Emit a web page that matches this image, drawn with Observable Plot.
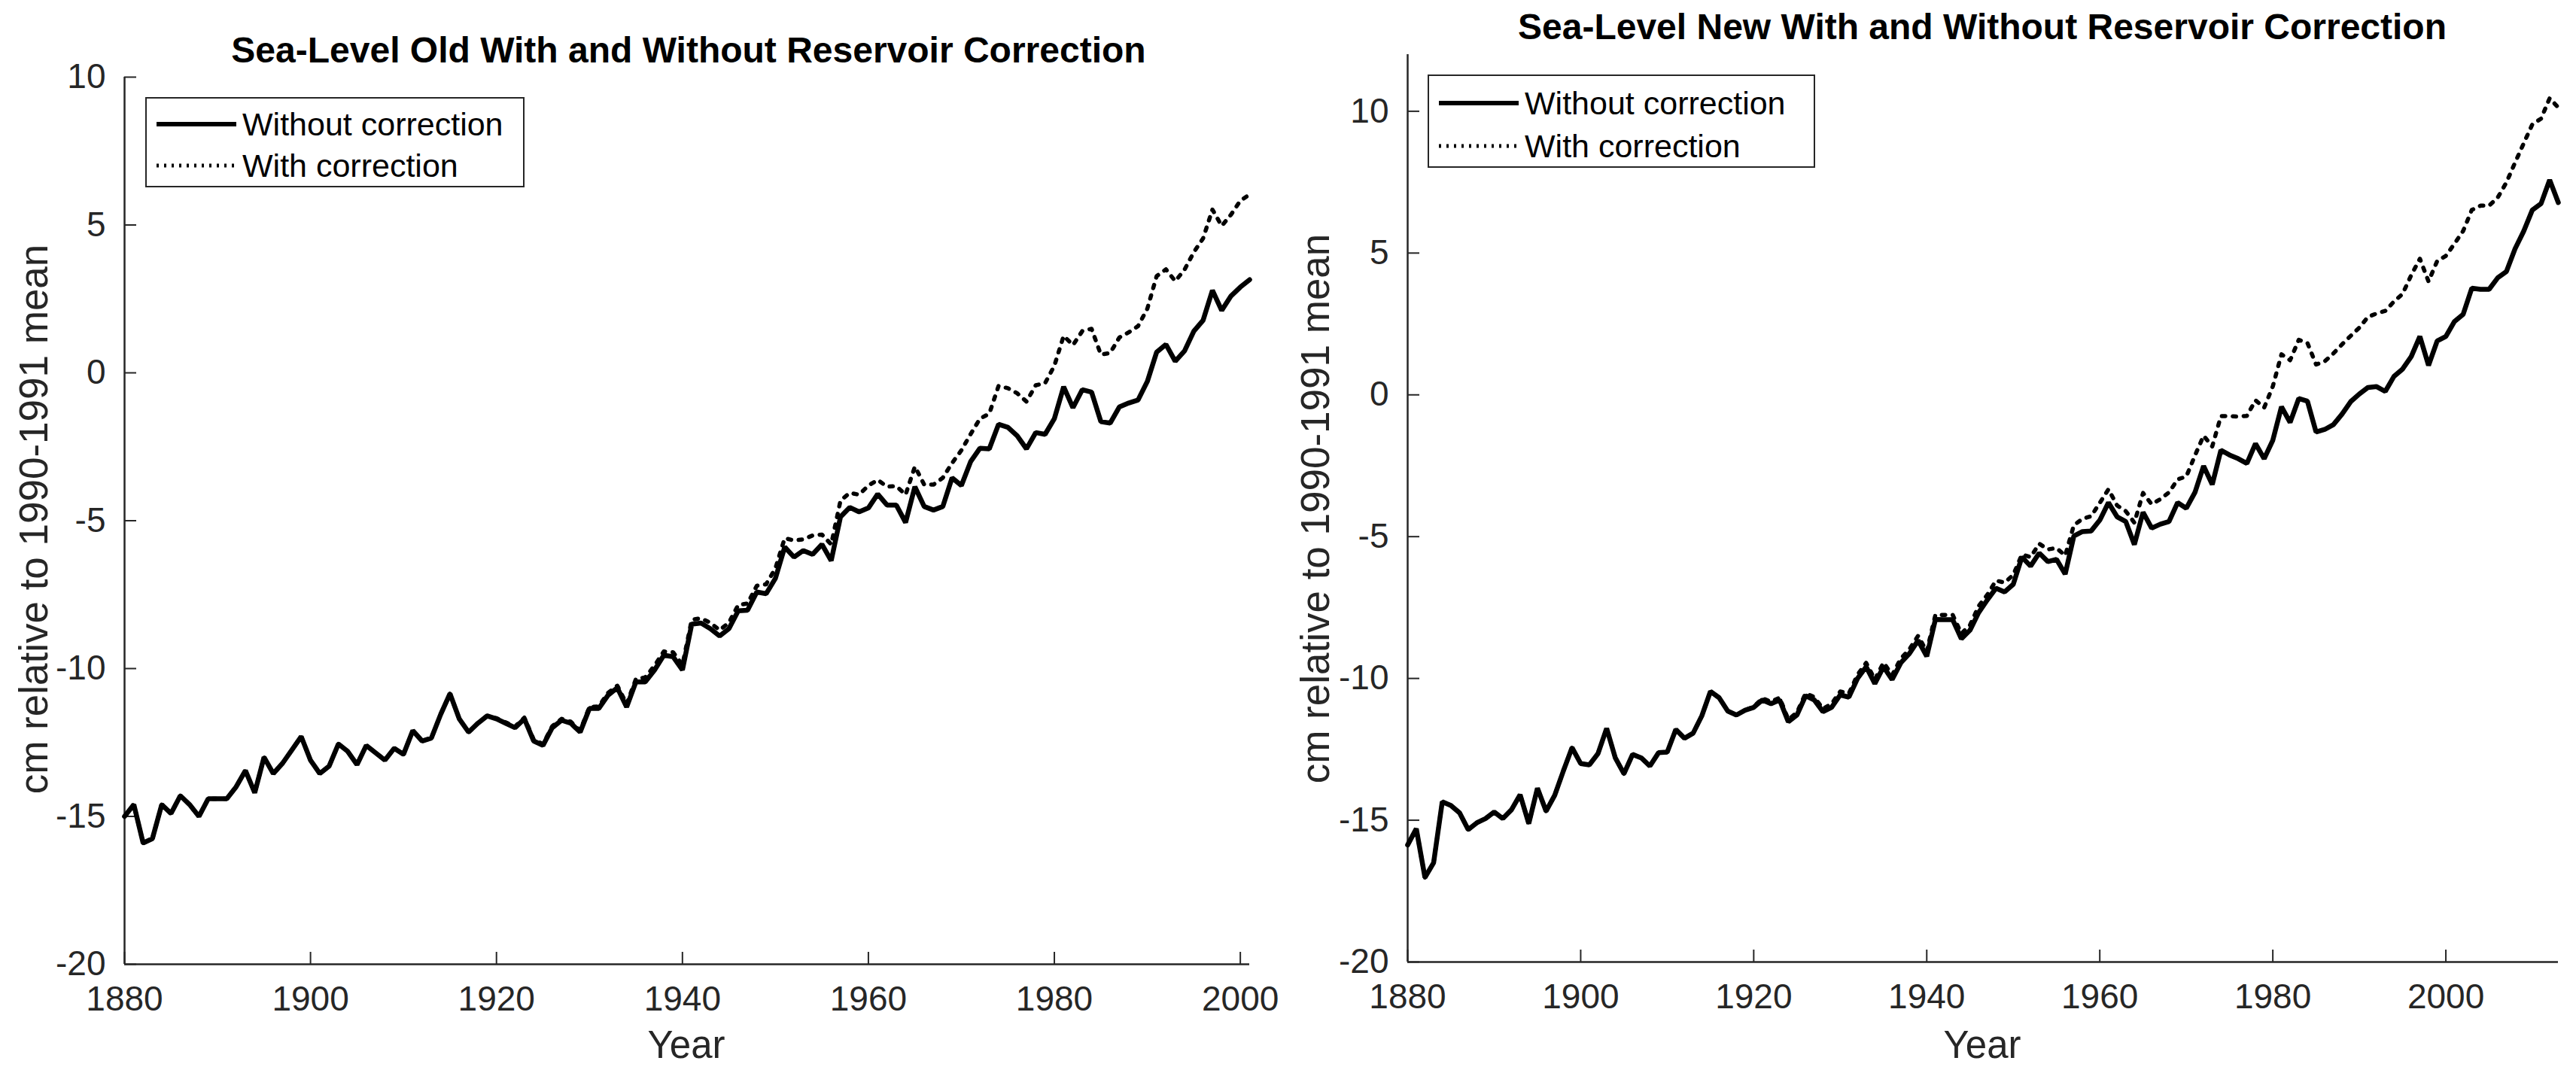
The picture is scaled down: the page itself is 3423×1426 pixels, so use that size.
<!DOCTYPE html>
<html>
<head>
<meta charset="utf-8">
<script src="https://cdn.jsdelivr.net/npm/d3@7"></script>
<script src="https://cdn.jsdelivr.net/npm/@observablehq/plot@0.6"></script>
<style>
  html, body { margin: 0; padding: 0; background: #fff; }
  #page { position: relative; width: 3423px; height: 1426px; background: #fff; overflow: hidden;
          font-family: "Liberation Sans", Arial, Helvetica, sans-serif; color: #262626; }
  .title { position: absolute; font-weight: bold; font-size: 48px; line-height: 1; white-space: nowrap;
           transform: translateX(-50%); color: #000; }
  .xlabel { position: absolute; font-size: 51px; line-height: 1; white-space: nowrap; transform: translate(-50%, -50%); }
  .ylabel { position: absolute; font-size: 53px; line-height: 1; white-space: nowrap;
            transform: translate(-50%, -50%) rotate(-90deg); }
  .legend { position: absolute; border: 2.5px solid #262626; background: #fff; box-sizing: border-box; }
  .legend .row { position: absolute; left: 0; height: 50px; display: flex; align-items: center; }
  .legend .row span { font-size: 43px; line-height: 1; white-space: nowrap; color: #000; }
  .legend svg { display: block; margin-left: 13px; margin-right: 8px; }
</style>
</head>
<body>
<div id="page"></div>
<script>
// ---------------- data ----------------
const leftStartYear = 1880;   // Sea-Level Old: 1880-2001
const rightStartYear = 1880;  // Sea-Level New: 1880-2013

const oldWithout = [
  -15.0,-14.6,-15.9,-15.75,-14.6,-14.9,-14.3,-14.6,-15.0,-14.4,
  -14.4,-14.4,-14.0,-13.45,-14.2,-13.0,-13.55,-13.2,-12.75,-12.3,
  -13.1,-13.55,-13.3,-12.55,-12.8,-13.25,-12.6,-12.85,-13.1,-12.7,
  -12.9,-12.1,-12.45,-12.35,-11.55,-10.85,-11.7,-12.15,-11.85,-11.6,
  -11.7,-11.85,-12.0,-11.7,-12.45,-12.6,-12.0,-11.75,-11.85,-12.15,
  -11.35,-11.35,-10.9,-10.65,-11.3,-10.45,-10.45,-10.05,-9.55,-9.6,
  -10.05,-8.5,-8.46,-8.65,-8.9,-8.65,-8.05,-8.03,-7.41,-7.47,
  -6.95,-5.89,-6.23,-6.01,-6.14,-5.8,-6.35,-4.87,-4.55,-4.7,
  -4.57,-4.1,-4.47,-4.47,-5.06,-3.85,-4.52,-4.64,-4.52,-3.55,
  -3.81,-3.0,-2.55,-2.57,-1.74,-1.84,-2.13,-2.57,-2.02,-2.08,
  -1.55,-0.47,-1.18,-0.57,-0.65,-1.65,-1.7,-1.15,-1.02,-0.92,
  -0.29,0.7,0.96,0.39,0.74,1.41,1.78,2.79,2.11,2.6,
  2.9,3.15
];
const oldWith = [
  -15.0,-14.6,-15.9,-15.75,-14.6,-14.9,-14.3,-14.6,-15.0,-14.4,
  -14.4,-14.4,-14.0,-13.45,-14.2,-13.0,-13.55,-13.2,-12.75,-12.3,
  -13.1,-13.55,-13.3,-12.55,-12.8,-13.25,-12.6,-12.85,-13.1,-12.7,
  -12.9,-12.1,-12.45,-12.35,-11.55,-10.85,-11.7,-12.15,-11.85,-11.6,
  -11.68,-11.82,-11.96,-11.66,-12.4,-12.55,-11.95,-11.7,-11.8,-12.1,
  -11.3,-11.28,-10.82,-10.58,-11.2,-10.35,-10.3,-9.9,-9.42,-9.45,
  -9.88,-8.35,-8.3,-8.45,-8.7,-8.45,-7.85,-7.8,-7.2,-7.15,
  -6.61,-5.59,-5.67,-5.63,-5.5,-5.47,-5.8,-4.32,-4.06,-4.12,
  -3.81,-3.62,-3.85,-3.83,-4.12,-3.17,-3.78,-3.78,-3.55,-3.05,
  -2.62,-2.07,-1.55,-1.38,-0.44,-0.52,-0.69,-0.97,-0.42,-0.35,
  0.24,1.25,0.94,1.41,1.49,0.62,0.67,1.2,1.37,1.58,
  2.17,3.27,3.5,3.1,3.49,4.08,4.55,5.52,4.97,5.35,
  5.82,6.03
];
const newWithout = [
  -15.87,-15.3,-17.02,-16.5,-14.35,-14.48,-14.74,-15.33,-15.09,-14.94,
  -14.71,-14.94,-14.63,-14.1,-15.12,-13.87,-14.68,-14.12,-13.26,-12.44,
  -13.0,-13.05,-12.65,-11.76,-12.8,-13.36,-12.68,-12.8,-13.09,-12.62,
  -12.6,-11.8,-12.11,-11.93,-11.32,-10.46,-10.68,-11.15,-11.29,-11.12,
  -11.02,-10.76,-10.89,-10.76,-11.53,-11.29,-10.61,-10.76,-11.17,-11.02,
  -10.58,-10.66,-10.0,-9.59,-10.18,-9.59,-10.04,-9.45,-9.12,-8.66,
  -9.22,-7.92,-7.93,-7.93,-8.6,-8.3,-7.68,-7.23,-6.82,-6.95,
  -6.68,-5.72,-6.04,-5.58,-5.88,-5.8,-6.32,-4.98,-4.82,-4.8,
  -4.42,-3.8,-4.3,-4.47,-5.28,-4.14,-4.7,-4.56,-4.47,-3.8,
  -4.0,-3.44,-2.51,-3.16,-1.95,-2.12,-2.25,-2.42,-1.72,-2.25,
  -1.6,-0.42,-0.97,-0.13,-0.22,-1.31,-1.22,-1.05,-0.68,-0.24,
  0.03,0.26,0.29,0.12,0.65,0.91,1.35,2.06,1.04,1.9,
  2.06,2.59,2.84,3.76,3.72,3.72,4.13,4.35,5.15,5.77,
  6.52,6.74,7.58,6.78
];
const newWith = [
  -15.87,-15.3,-17.02,-16.5,-14.35,-14.48,-14.74,-15.33,-15.09,-14.94,
  -14.71,-14.94,-14.63,-14.1,-15.12,-13.87,-14.68,-14.12,-13.26,-12.44,
  -13.0,-13.05,-12.65,-11.76,-12.8,-13.36,-12.68,-12.8,-13.09,-12.62,
  -12.6,-11.8,-12.11,-11.93,-11.32,-10.46,-10.68,-11.15,-11.29,-11.12,
  -11.0,-10.7,-10.82,-10.68,-11.45,-11.2,-10.52,-10.66,-11.07,-10.9,
  -10.46,-10.53,-9.87,-9.45,-10.04,-9.44,-9.88,-9.3,-8.97,-8.5,
  -9.05,-7.76,-7.76,-7.76,-8.42,-8.12,-7.45,-7.05,-6.55,-6.62,
  -6.35,-5.63,-5.72,-5.25,-5.45,-5.4,-5.67,-4.6,-4.37,-4.28,
  -3.81,-3.33,-3.9,-4.1,-4.51,-3.46,-3.86,-3.68,-3.44,-2.98,
  -2.88,-2.14,-1.44,-1.82,-0.75,-0.75,-0.77,-0.74,-0.19,-0.45,
  0.3,1.43,1.22,1.94,1.83,1.07,1.18,1.46,1.78,2.08,
  2.37,2.75,2.87,2.96,3.29,3.56,4.22,4.8,4.0,4.72,
  4.9,5.33,5.78,6.52,6.67,6.67,6.96,7.49,8.19,8.87,
  9.54,9.74,10.46,10.13
];

const xTicks = [1880, 1900, 1920, 1940, 1960, 1980, 2000];
const yTicksOld = [-20, -15, -10, -5, 0, 5, 10];
const yTicksNew = [-20, -15, -10, -5, 0, 5, 10];
const seriesNames = ["Without correction", "With correction"];
const titles = ["Sea-Level Old With and Without Reservoir Correction",
                "Sea-Level New With and Without Reservoir Correction"];
const xLabel = "Year";
const yLabel = "cm relative to 1990-1991 mean";

// ---------------- build ----------------
const AX = "#262626";
const page = document.getElementById("page");

function rows(start, without, withC) {
  return without.map((v, i) => ({year: start + i, without: v, with: withC[i]}));
}

function panel(cfg) {
  const data = rows(cfg.start, cfg.without, cfg.with);
  const svg = Plot.plot({
    width: cfg.width, height: cfg.height,
    marginLeft: cfg.ml, marginRight: cfg.mr, marginTop: cfg.mt, marginBottom: cfg.mb,
    style: {fontFamily: '"Liberation Sans", Arial, Helvetica, sans-serif', fontSize: "46px", color: AX, background: "white", overflow: "visible"},
    x: {domain: cfg.xDomain},
    y: {domain: cfg.yDomain},
    marks: [
      Plot.axisX(xTicks, {anchor: "bottom", tickSize: -16, tickPadding: 45, tickFormat: d => String(d), label: null, strokeWidth: 2, color: AX}),
      Plot.axisY(cfg.yTicks, {anchor: "left", tickSize: -16, tickPadding: 41, tickFormat: d => String(d), label: null, strokeWidth: 2, color: AX}),
      Plot.ruleX([cfg.xDomain[0]], {stroke: AX, strokeWidth: 2.5}),
      Plot.ruleY([cfg.yDomain[0]], {stroke: AX, strokeWidth: 2.5}),
      Plot.lineY(data, {x: "year", y: "with", stroke: "black", strokeWidth: 5.5, strokeDasharray: "4.5,10"}),
      Plot.lineY(data, {x: "year", y: "without", stroke: "black", strokeWidth: 6.5, strokeLinejoin: "miter"})
    ]
  });
  svg.style.position = "absolute";
  svg.style.left = cfg.left + "px";
  svg.style.top = "0px";
  page.appendChild(svg);

  const t = document.createElement("div");
  t.className = "title"; t.textContent = cfg.title;
  t.style.left = cfg.titleX + "px"; t.style.top = cfg.titleTop + "px";
  page.appendChild(t);

  const xl = document.createElement("div");
  xl.className = "xlabel"; xl.textContent = xLabel;
  xl.style.left = cfg.xLabelX + "px"; xl.style.top = cfg.xLabelY + "px";
  page.appendChild(xl);

  const yl = document.createElement("div");
  yl.className = "ylabel"; yl.textContent = yLabel;
  yl.style.left = cfg.yLabelX + "px"; yl.style.top = cfg.yLabelY + "px";
  page.appendChild(yl);

  const lg = document.createElement("div");
  lg.className = "legend";
  lg.style.left = cfg.legend.x + "px"; lg.style.top = cfg.legend.y + "px";
  lg.style.width = cfg.legend.w + "px"; lg.style.height = cfg.legend.h + "px";
  seriesNames.forEach((name, i) => {
    const r = document.createElement("div");
    r.className = "row";
    r.style.top = (cfg.legend.rows[i] - 25) + "px";
    const dash = i === 0 ? "" : 'stroke-dasharray="3,7"';
    const sw = i === 0 ? 6 : 5;
    r.innerHTML = `<svg width="106" height="20"><line x1="0" y1="10" x2="106" y2="10" stroke="black" stroke-width="${sw}" ${dash}/></svg><span>${name}</span>`;
    lg.appendChild(r);
  });
  page.appendChild(lg);
}

panel({
  start: leftStartYear, without: oldWithout, with: oldWith, yTicks: yTicksOld,
  left: 0, width: 1711, height: 1426, ml: 165, mr: 51, mt: 102, mb: 145,
  xDomain: [1880, 2001], yDomain: [-20, 10],
  title: titles[0], titleX: 915, titleTop: 43,
  xLabelX: 912, xLabelY: 1388, yLabelX: 44, yLabelY: 690,
  legend: {x: 193, y: 129, w: 504, h: 120, rows: [34, 89]}
});
panel({
  start: rightStartYear, without: newWithout, with: newWith, yTicks: yTicksNew,
  left: 1711, width: 1712, height: 1426, ml: 159, mr: 24, mt: 72, mb: 148,
  xDomain: [1880, 2013], yDomain: [-20, 12],
  title: titles[1], titleX: 2634, titleTop: 12,
  xLabelX: 2634, xLabelY: 1388, yLabelX: 1747, yLabelY: 676,
  legend: {x: 1897, y: 99, w: 515, h: 124, rows: [36, 93]}
});
</script>
</body>
</html>
